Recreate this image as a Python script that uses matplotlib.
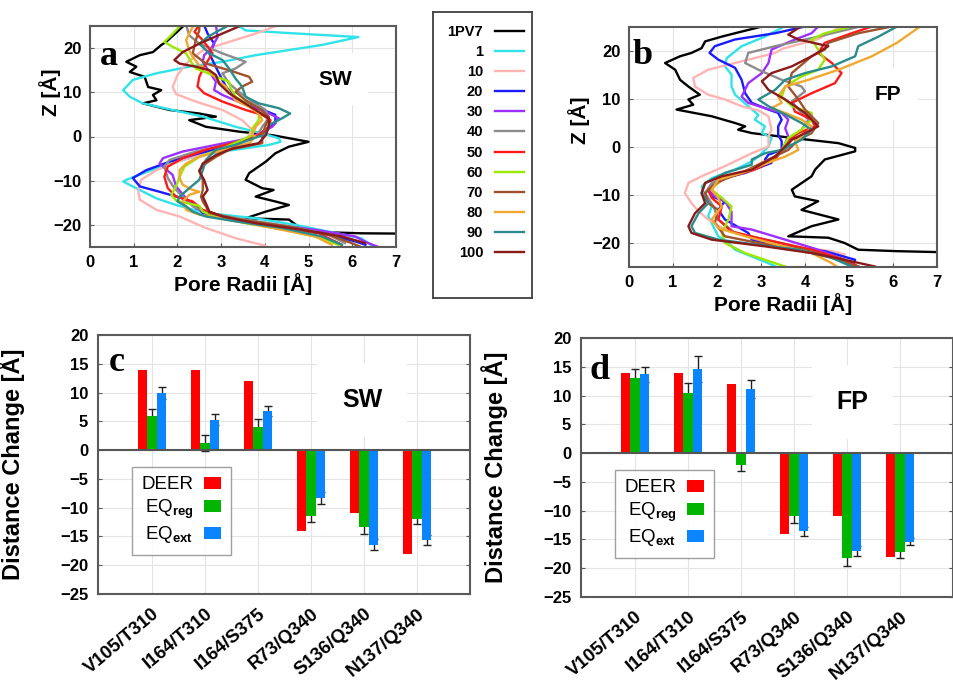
import matplotlib
matplotlib.use("Agg")
import matplotlib.pyplot as plt
import numpy as np
from matplotlib.patches import Patch
from matplotlib.transforms import ScaledTranslation

plt.rcParams["font.family"] = ["Liberation Sans", "DejaVu Sans"]
plt.rcParams["font.weight"] = "bold"
plt.rcParams["axes.labelweight"] = "bold"
plt.rcParams["mathtext.fontset"] = "custom"
plt.rcParams["mathtext.rm"] = "Liberation Sans"
plt.rcParams["mathtext.bf"] = "Liberation Sans:bold"

# ---- pore radius profiles, (radius, z) pairs ----
series_labels = ["1PV7", "1", "10", "20", "30", "40", "50", "60", "70", "80", "90", "100"]
series_colors = ["#000000", "#2fe3e8", "#ffb4b4", "#1a1aff", "#9b30ff", "#8c8c8c",
                 "#ff1a1a", "#9be800", "#a0522d", "#f0a830", "#2a8c8c", "#8b1a1a"]

sw_1pv7 = [(2.16, 25.2), (1.74, 21.4), (1.63, 20.7), (1.44, 19.1), (1.14, 18.4), (0.83, 16.9),
           (1.06, 15.8), (0.91, 14.6), (1.25, 13.5), (1.33, 11.2), (1.63, 10.5), (1.44, 9.4),
           (1.52, 8.2), (1.21, 7.5), (1.82, 6.0), (2.5, 5.2), (2.88, 4.5), (2.27, 3.7),
           (2.65, 2.2), (3.41, 1.1), (4.17, 0.3), (5.0, -1.2), (4.55, -2.3), (4.24, -3.8),
           (4.02, -5.7), (3.64, -8.3), (3.56, -9.8), (3.94, -11.7), (4.2, -12.1), (3.79, -13.6),
           (4.24, -14.7), (4.55, -15.5), (4.02, -17.0), (3.56, -18.5), (4.55, -18.8),
           (4.77, -20.4), (4.85, -21.5), (6.2, -21.9), (7.5, -22.0)]
sw_1 = [(3.37, 25.2), (3.56, 24.0), (4.55, 23.4), (6.14, 22.5), (5.3, 20.7), (3.79, 18.4),
        (3.03, 16.9), (2.27, 15.8), (1.52, 14.3), (0.98, 12.8), (0.76, 10.5), (0.91, 9.0),
        (1.21, 7.5), (1.89, 6.0), (2.58, 4.5), (3.33, 2.2), (3.94, 0.7), (4.32, -0.4),
        (4.36, -1.2), (4.1, -1.9), (3.03, -3.4), (2.27, -4.9), (1.52, -7.2), (0.83, -9.8),
        (0.76, -10.2), (0.98, -11.3), (1.36, -13.2), (1.52, -14.0), (1.97, -15.5),
        (2.65, -17.3), (3.79, -18.5), (4.7, -20.0), (5.45, -21.5), (6.2, -23.0), (6.5, -25.0)]
sw_10 = [(4.32, 25.2), (3.79, 23.3), (3.18, 21.4), (2.58, 19.5), (2.2, 16.5), (2.0, 13.9),
         (1.89, 11.2), (1.97, 9.6), (2.42, 7.9), (3.03, 6.0), (3.48, 3.7), (3.71, 1.5),
         (3.56, -0.8), (2.88, -3.0), (2.12, -5.3), (1.52, -7.6), (1.17, -9.8), (1.1, -12.1),
         (1.14, -14.3), (1.52, -16.6), (2.05, -18.1), (2.65, -20.7), (3.33, -23.0), (4.0, -24.7)]
sw_20 = [(2.61, 25.2), (2.69, 23.3), (2.84, 21.0), (2.73, 18.8), (2.84, 16.5), (2.99, 13.5),
         (3.11, 11.3), (3.33, 8.6), (3.79, 6.7), (4.24, 4.9), (4.24, 3.0), (3.94, 0.7),
         (3.79, 0.0), (3.26, -1.9), (2.5, -3.8), (1.82, -5.7), (1.29, -7.6), (0.98, -9.4),
         (1.14, -11.3), (1.59, -12.5), (2.12, -14.0), (2.42, -15.5), (2.58, -17.3),
         (3.18, -18.8), (4.24, -20.4), (5.3, -21.9), (6.06, -23.7), (6.3, -24.5)]
sw_30 = [(2.88, 25.2), (2.92, 22.5), (2.77, 19.9), (2.61, 18.4), (2.58, 16.9), (2.73, 14.6),
         (2.88, 12.4), (2.84, 10.5), (3.03, 9.4), (3.48, 7.5), (4.02, 5.6), (4.32, 4.1),
         (4.17, 2.2), (3.86, 0.7), (3.64, -0.4), (2.88, -1.9), (2.12, -3.4), (1.67, -4.9),
         (1.59, -6.1), (1.89, -8.7), (1.97, -11.3), (2.2, -14.0), (2.42, -16.2), (2.8, -17.7),
         (3.94, -19.6), (5.15, -21.1), (6.06, -22.6), (6.36, -24.1), (6.6, -25.0)]
sw_40 = [(2.2, 25.2), (2.27, 22.9), (2.5, 21.0), (3.03, 18.8), (3.56, 16.9), (3.33, 15.4),
         (3.03, 14.3), (3.18, 12.0), (3.41, 10.1), (3.71, 7.9), (4.02, 6.0), (4.09, 4.1),
         (3.94, 2.2), (3.83, 0.3), (3.71, -0.4), (3.11, -1.9), (2.42, -3.4), (1.82, -5.3),
         (1.7, -6.8), (1.78, -9.4), (1.93, -11.7), (2.16, -14.0), (2.35, -15.8), (2.73, -17.3),
         (3.56, -18.8), (4.62, -20.4), (5.45, -22.2), (5.83, -24.1)]
sw_50 = [(2.5, 25.2), (2.39, 23.7), (2.54, 22.2), (2.73, 19.9), (2.8, 18.8), (2.61, 15.8),
         (2.5, 13.5), (2.46, 11.3), (2.61, 9.8), (3.03, 7.9), (3.56, 6.0), (3.94, 4.9),
         (4.13, 3.7), (4.09, 2.2), (3.86, 0.3), (3.26, -1.5), (2.65, -3.0), (2.12, -4.9),
         (1.78, -6.8), (1.7, -9.1), (1.78, -11.7), (1.97, -13.6), (2.35, -14.7), (2.58, -16.6),
         (3.18, -18.5), (4.24, -20.4), (5.23, -21.9), (5.76, -24.5)]
sw_60 = [(2.08, 25.2), (1.86, 22.9), (1.7, 21.4), (1.89, 20.3), (2.2, 18.8), (2.31, 16.9),
         (2.42, 15.4), (2.8, 13.9), (3.18, 12.4), (3.22, 10.9), (3.33, 9.0), (3.64, 7.1),
         (3.86, 5.2), (3.86, 3.7), (3.71, 1.8), (3.71, 0.3), (3.56, -0.4), (3.03, -2.7),
         (2.5, -4.6), (2.16, -6.8), (2.05, -9.1), (1.97, -11.3), (1.86, -13.2), (1.97, -14.5),
         (2.5, -15.7), (2.58, -17.0), (2.88, -18.2), (3.56, -19.6), (4.47, -21.1), (5.3, -23.0),
         (5.68, -24.5)]
sw_70 = [(2.5, 25.2), (2.5, 24.0), (2.42, 21.8), (2.35, 18.8), (2.65, 16.5), (3.18, 15.0),
         (3.64, 13.5), (3.71, 12.4), (3.48, 11.3), (3.33, 10.1), (3.56, 8.2), (3.86, 6.4),
         (4.09, 4.5), (4.02, 2.6), (3.94, 0.3), (3.94, -1.5), (3.18, -3.0), (2.88, -4.6),
         (2.65, -6.1), (2.5, -7.6), (2.58, -9.8), (2.58, -12.1), (2.54, -13.6), (2.58, -14.7),
         (2.65, -15.8), (2.73, -17.3), (3.41, -18.8), (4.55, -20.4), (5.45, -22.2),
         (5.98, -24.1), (6.2, -25.0)]
sw_80 = [(2.35, 24.8), (2.27, 23.3), (2.2, 21.8), (2.27, 19.5), (2.35, 18.0), (2.5, 16.1),
         (2.8, 14.3), (2.95, 12.4), (3.11, 11.3), (3.18, 10.1), (3.33, 8.2), (3.64, 6.7),
         (3.86, 5.2), (3.94, 3.7), (3.79, 2.2), (3.71, 0.3), (3.79, 0.0), (3.64, -1.5),
         (3.18, -2.7), (2.5, -4.6), (2.2, -6.1), (2.05, -7.6), (2.05, -9.4), (2.12, -10.9),
         (2.35, -12.1), (2.5, -12.5), (2.27, -13.2), (2.12, -14.7), (2.2, -16.6), (2.5, -17.7),
         (3.18, -18.8), (4.17, -20.7), (5.15, -22.6), (5.53, -24.5)]
sw_90 = [(3.11, 24.8), (2.95, 24.0), (2.69, 22.5), (2.5, 21.0), (2.73, 18.8), (3.03, 17.3),
         (3.18, 15.4), (3.33, 13.1), (3.48, 11.3), (3.56, 9.0), (3.86, 7.5), (4.32, 6.4),
         (4.58, 5.2), (4.39, 4.1), (4.09, 2.6), (4.02, 0.3), (3.86, 0.0), (3.33, -1.9),
         (2.88, -3.0), (2.65, -5.3), (2.58, -7.6), (2.5, -9.8), (2.27, -11.7), (2.05, -13.6),
         (2.0, -14.7), (2.2, -15.8), (2.35, -17.0), (2.65, -18.1), (3.33, -19.2), (4.39, -20.7),
         (5.3, -22.6), (5.76, -24.5)]
sw_100 = [(3.48, 25.2), (3.03, 23.3), (2.5, 21.0), (2.12, 19.1), (1.93, 17.3), (2.05, 16.5),
          (2.42, 15.8), (2.73, 15.0), (2.88, 13.9), (2.95, 12.0), (3.18, 9.8), (3.48, 7.9),
          (3.79, 6.0), (4.09, 4.1), (4.09, 2.2), (4.02, 0.3), (3.86, -1.5), (3.26, -2.7),
          (2.88, -4.2), (2.58, -6.1), (2.5, -7.9), (2.61, -9.8), (2.69, -12.1), (2.58, -13.6),
          (2.65, -15.1), (2.73, -17.0), (3.03, -18.1), (3.79, -19.6), (4.85, -21.1),
          (5.76, -22.6), (6.29, -24.1)]

fp_1pv7 = [(3.02, 25.1), (2.41, 23.7), (2.11, 23.0), (1.73, 22.0), (1.65, 20.6), (1.42, 19.6),
           (1.16, 18.9), (0.82, 17.5), (1.05, 16.1), (1.16, 14.0), (1.35, 12.6), (1.61, 10.9),
           (1.35, 9.9), (1.46, 8.8), (1.08, 7.8), (1.88, 6.4), (2.41, 5.0), (2.64, 4.3),
           (2.48, 3.6), (2.79, 2.9), (3.7, 1.9), (4.76, 0.8), (5.14, -0.2), (5.14, -0.9),
           (4.45, -2.6), (4.23, -4.7), (4.15, -6.1), (3.7, -8.9), (3.77, -10.3), (4.3, -11.3),
           (3.92, -13.1), (4.76, -15.1), (4.15, -16.5), (3.62, -18.6), (4.53, -18.9),
           (4.9, -20.0), (5.21, -21.4), (6.09, -21.7), (7.5, -22.0)]
fp_1 = [(3.47, 24.8), (3.09, 23.0), (2.56, 21.0), (2.22, 18.5), (2.18, 16.8), (2.33, 15.1),
        (2.33, 12.6), (2.41, 10.9), (2.71, 8.5), (2.94, 6.7), (2.86, 5.7), (3.09, 4.3),
        (3.02, 2.9), (3.24, 1.9), (3.17, 0.1), (2.94, -2.0), (2.79, -3.0), (2.41, -4.7),
        (1.88, -6.5), (1.65, -8.2), (1.73, -10.3), (1.88, -12.4), (1.8, -14.4), (1.95, -17.2),
        (2.03, -18.6), (2.26, -20.0), (2.41, -21.4), (2.79, -22.8), (3.24, -24.5), (3.4, -25.2)]
fp_10 = [(4.8, 25.0), (4.3, 22.5), (3.5, 20.5), (3.32, 19.6), (2.41, 17.5), (1.8, 16.1),
         (1.46, 14.4), (1.5, 12.6), (1.8, 10.9), (2.18, 9.9), (2.56, 8.5), (2.94, 7.6),
         (3.17, 6.4), (3.24, 3.6), (3.17, 2.2), (3.17, 0.1), (2.79, -1.3), (2.18, -4.0),
         (1.65, -6.1), (1.35, -7.5), (1.27, -9.6), (1.42, -11.7), (1.58, -13.4), (1.8, -15.1),
         (2.18, -17.2), (2.79, -18.9), (3.7, -20.7), (4.61, -21.7), (4.9, -22.4)]
fp_20 = [(4.0, 25.1), (3.32, 23.7), (2.41, 22.4), (1.95, 21.0), (1.83, 19.6), (2.03, 18.2),
         (2.41, 16.5), (2.56, 14.0), (2.64, 11.2), (2.79, 9.2), (3.17, 7.8), (3.39, 7.1),
         (3.47, 5.7), (3.39, 4.3), (3.39, 2.6), (3.47, 1.2), (3.47, -0.6), (3.17, -1.6),
         (3.09, -2.6), (3.24, -3.3), (2.64, -5.4), (2.03, -6.8), (1.8, -8.9), (1.88, -10.3),
         (2.18, -11.3), (2.03, -13.1), (2.18, -15.1), (2.71, -17.9), (2.79, -19.3),
         (3.47, -20.7), (4.45, -21.7), (5.14, -23.5), (5.1, -24.5)]
fp_30 = [(4.3, 25.1), (4.15, 23.7), (3.77, 22.4), (3.24, 20.3), (3.17, 17.5), (3.02, 15.4),
         (2.71, 13.3), (2.56, 10.5), (2.71, 9.2), (3.09, 8.1), (3.47, 7.1), (3.62, 5.7),
         (3.55, 3.9), (3.62, 2.2), (3.47, -0.9), (3.24, -2.6), (2.71, -5.1), (2.03, -6.8),
         (1.8, -8.9), (1.95, -10.3), (2.18, -11.3), (2.33, -13.5), (2.33, -16.5), (2.79, -17.2),
         (3.55, -19.3), (4.3, -21.4), (4.9, -23.5), (5.2, -24.9)]
fp_40 = [(5.2, 25.0), (4.3, 23.0), (3.32, 21.0), (2.71, 19.6), (2.64, 17.5), (2.94, 16.1),
         (3.47, 14.0), (3.92, 12.6), (4.0, 11.6), (3.85, 10.5), (3.7, 9.5), (3.85, 7.8),
         (4.08, 5.7), (3.92, 3.6), (3.7, 1.9), (3.62, 0.1), (3.39, -1.6), (3.24, -3.0),
         (2.56, -5.4), (1.88, -7.5), (1.73, -9.6), (1.92, -12.4), (2.03, -15.1), (2.41, -17.9),
         (3.32, -19.7), (4.08, -21.4), (4.76, -23.1), (5.06, -24.9)]
fp_50 = [(5.52, 25.1), (5.06, 23.7), (4.45, 21.7), (4.3, 19.6), (4.61, 17.5), (4.83, 15.4),
         (4.68, 13.3), (4.15, 11.2), (3.7, 9.2), (3.77, 7.4), (4.15, 5.7), (4.23, 4.3),
         (3.85, 2.9), (3.62, 1.5), (3.47, -0.6), (3.32, -2.6), (2.86, -4.7), (2.18, -6.5),
         (1.8, -8.9), (1.88, -10.6), (2.11, -12.4), (2.03, -15.1), (2.33, -17.6), (3.09, -19.3),
         (4.15, -21.4), (4.9, -23.5), (5.21, -24.9)]
fp_60 = [(5.06, 25.1), (4.45, 23.7), (4.15, 22.4), (4.3, 20.3), (4.45, 18.2), (4.3, 16.1),
         (3.92, 14.7), (3.55, 12.6), (3.47, 10.5), (3.7, 8.5), (4.15, 7.1), (4.15, 5.7),
         (3.92, 3.6), (3.62, 1.9), (3.47, -0.6), (3.24, -2.6), (2.79, -4.7), (2.11, -6.5),
         (1.88, -8.9), (2.11, -10.6), (2.33, -12.4), (2.26, -15.1), (2.11, -17.9), (2.18, -20.0),
         (2.64, -22.1), (3.09, -23.5), (3.55, -24.9)]
fp_70 = [(5.97, 25.1), (5.21, 23.7), (4.53, 21.7), (4.45, 20.3), (4.15, 18.9), (3.7, 15.4),
         (3.62, 12.6), (3.85, 9.9), (4.0, 7.8), (4.3, 5.0), (4.15, 2.9), (3.85, 1.5),
         (3.62, -0.6), (3.17, -2.6), (2.56, -5.4), (2.03, -7.2), (1.73, -9.6), (1.8, -11.7),
         (2.03, -13.1), (1.95, -15.8), (2.18, -18.6), (2.94, -20.0), (4.0, -21.4), (4.76, -23.5),
         (5.21, -24.9)]
fp_80 = [(6.6, 25.0), (6.09, 21.7), (5.52, 18.9), (4.76, 16.1), (4.08, 14.0), (3.55, 12.6),
         (3.39, 10.5), (3.47, 9.2), (3.24, 8.1), (3.55, 7.1), (3.92, 5.7), (4.15, 4.3),
         (4.0, 2.6), (3.77, 1.2), (3.85, -0.6), (3.55, -2.0), (3.24, -3.0), (2.56, -5.4),
         (2.03, -6.8), (1.88, -8.9), (2.03, -10.6), (2.11, -12.4), (1.88, -15.1), (2.03, -16.9),
         (2.64, -18.6), (3.39, -20.4), (4.15, -22.1), (4.61, -24.2), (4.76, -25.2)]
fp_90 = [(6.5, 25.5), (6.09, 25.1), (5.67, 23.0), (5.21, 21.0), (5.14, 18.9), (4.61, 16.8),
         (4.0, 15.4), (3.55, 14.0), (3.32, 11.9), (2.94, 9.9), (3.17, 8.5), (3.55, 6.8),
         (3.92, 5.0), (4.15, 3.6), (3.92, 1.5), (3.47, -0.6), (3.09, -1.3), (2.79, -2.6),
         (2.79, -3.7), (2.18, -5.4), (1.73, -7.5), (1.65, -9.6), (1.8, -11.7), (1.58, -13.8),
         (1.42, -16.5), (1.5, -17.9), (2.03, -19.3), (2.94, -20.4), (3.85, -21.4), (4.61, -23.1),
         (5.06, -24.9)]
fp_100 = [(3.85, 24.8), (3.62, 23.4), (3.85, 22.4), (4.53, 21.0), (4.15, 18.9), (3.7, 16.8),
          (3.24, 15.4), (3.02, 13.7), (3.17, 11.9), (3.55, 9.9), (4.0, 7.1), (4.3, 4.3),
          (4.0, 2.9), (3.7, 1.5), (3.47, -0.6), (3.32, -2.0), (2.79, -4.7), (2.11, -6.1),
          (1.73, -7.5), (1.65, -9.6), (1.73, -11.7), (1.5, -13.8), (1.35, -16.5), (1.42, -17.9),
          (1.88, -19.3), (3.09, -20.7), (4.15, -22.1), (4.9, -23.5), (5.59, -24.9)]

sw_profiles = [sw_1pv7, sw_1, sw_10, sw_20, sw_30, sw_40, sw_50, sw_60, sw_70, sw_80, sw_90, sw_100]
fp_profiles = [fp_1pv7, fp_1, fp_10, fp_20, fp_30, fp_40, fp_50, fp_60, fp_70, fp_80, fp_90, fp_100]

# ---- distance changes ----
pairs = ["V105/T310", "I164/T310", "I164/S375", "R73/Q340", "S136/Q340", "N137/Q340"]
sw_deer = [14, 14, 12, -14, -11, -18]
sw_reg = [5.9, 1.2, 4.0, -11.5, -13.3, -12.0]
sw_reg_err = [1.2, 1.4, 1.4, 1.0, 1.2, 0.9]
sw_ext = [9.9, 5.3, 6.8, -8.3, -16.4, -15.6]
sw_ext_err = [1.1, 0.9, 0.8, 1.0, 1.0, 0.9]
fp_deer = [14, 14, 12, -14, -11, -18]
fp_reg = [13.0, 10.5, -2.1, -11.0, -18.3, -17.2]
fp_reg_err = [1.7, 1.6, 1.0, 1.2, 1.3, 1.1]
fp_ext = [13.7, 14.6, 11.1, -13.6, -17.0, -15.4]
fp_ext_err = [1.3, 2.3, 1.6, 0.8, 0.9, 0.6]

W, H = 954, 684
fig = plt.figure(figsize=(W / 100, H / 100), dpi=100)


def rect(x0, y0, x1, y1):
    # pixel box -> figure fraction
    return [x0 / W, 1 - y1 / H, (x1 - x0) / W, (y1 - y0) / H]


frame_col = "#5a5a5a"
grid_col = "#e4e4e4"


def style(ax):
    for s in ax.spines.values():
        s.set_color(frame_col)
        s.set_linewidth(1.5)
    ax.grid(True, color=grid_col, lw=0.8)
    ax.set_axisbelow(True)
    ax.tick_params(direction="in", length=3, color=frame_col, labelsize=12)


def bold_ticks(ax):
    for lab in ax.get_xticklabels() + ax.get_yticklabels():
        lab.set_fontweight("bold")


def profile_panel(box, profiles, letter, tag, tag_xy, letter_xy, zlab_xy):
    ax = fig.add_axes(rect(*box))
    style(ax)
    lines = []
    for prof, col, lab in zip(profiles, series_colors, series_labels):
        arr = np.array(prof)
        ln, = ax.plot(arr[:, 0], arr[:, 1], color=col, lw=1.7, label=lab)
        lines.append(ln)
    ax.set_xlim(0, 7)
    ax.set_ylim(-25, 25)
    ax.set_xticks(range(0, 8))
    ax.set_yticks([-20, -10, 0, 10, 20])
    ax.tick_params(axis="both", pad=6)
    bold_ticks(ax)
    ax.set_xlabel("Pore Radii [Å]", fontsize=15, labelpad=2)
    ax.set_ylabel("Z [Å]", fontsize=15)
    ax.yaxis.set_label_coords(*zlab_xy)
    ax.text(*letter_xy, letter, transform=ax.transAxes, family="Liberation Serif",
            fontsize=26, weight="bold", ha="center", va="center")
    ax.text(*tag_xy, tag, transform=ax.transAxes, fontsize=15, weight="bold",
            ha="center", va="center",
            bbox=dict(facecolor="white", edgecolor="none", boxstyle="square,pad=0.8"))
    return ax, lines


ax_a, handles = profile_panel((90, 26, 396, 247), sw_profiles, "a", "SW",
                              (0.80, 0.76), (0.062, 0.86), (-0.095, 0.70))
ax_b, _ = profile_panel((629, 27, 937, 267), fp_profiles, "b", "FP",
                        (0.84, 0.72), (0.045, 0.88), (-0.125, 0.61))

# middle legend box
ax_leg = fig.add_axes(rect(433, 12, 532, 298))
ax_leg.set_xticks([])
ax_leg.set_yticks([])
for s in ax_leg.spines.values():
    s.set_color("#404040")
    s.set_linewidth(1.3)
ax_leg.legend(handles, series_labels, loc="upper right", bbox_to_anchor=(0.92, 0.955),
              frameon=False, markerfirst=False, fontsize=10.5, handlelength=2.0,
              handletextpad=0.8, labelspacing=0.42, borderpad=0, borderaxespad=0)

bar_cols = ["#ff0000", "#00b400", "#0a84ff"]
leg_labels = ["DEER", r"EQ$_\mathbf{reg}$", r"EQ$_\mathbf{ext}$"]


def bar_panel(box, deer, reg, reg_err, ext, ext_err, letter, tag, letter_xy, tag_xy):
    ax = fig.add_axes(rect(*box))
    style(ax)
    x = np.arange(len(pairs))
    w = 0.18
    ax.errorbar(x, reg, yerr=reg_err, fmt="none", ecolor="#222222", elinewidth=1,
                capsize=3, capthick=1, zorder=1.5)
    ax.errorbar(x + w, ext, yerr=ext_err, fmt="none", ecolor="#222222", elinewidth=1,
                capsize=3, capthick=1, zorder=1.5)
    ax.bar(x - w, deer, w, color=bar_cols[0], zorder=2)
    ax.bar(x, reg, w, color=bar_cols[1], zorder=2)
    ax.bar(x + w, ext, w, color=bar_cols[2], zorder=2)
    ax.axhline(0, color="#555555", lw=1.5, zorder=3)
    ax.set_xlim(-1.02, 6.0)
    ax.set_ylim(-25, 20)
    ax.set_yticks(range(-25, 21, 5))
    ax.set_xticks(x)
    ax.set_xticklabels(pairs, rotation=40, ha="right", rotation_mode="anchor", fontsize=13.5)
    off = ScaledTranslation(15 / 100, 0, fig.dpi_scale_trans)
    for lab in ax.get_xticklabels():
        lab.set_transform(lab.get_transform() + off)
    ax.tick_params(axis="y", right=True, pad=7)
    ax.tick_params(axis="x", length=0, pad=8)
    bold_ticks(ax)
    ax.set_ylabel("Distance Change [Å]", fontsize=17)
    ax.yaxis.set_label_coords(-0.196, 0.5)
    ax.text(*letter_xy, letter, transform=ax.transAxes, family="Liberation Serif",
            fontsize=26, weight="bold", ha="center", va="center")
    ax.text(*tag_xy, tag, transform=ax.transAxes, fontsize=18, weight="bold",
            ha="center", va="center", zorder=1,
            bbox=dict(facecolor="white", edgecolor="none", boxstyle="square,pad=1.0"))
    patches = [Patch(facecolor=c) for c in bar_cols]
    leg = ax.legend(patches, leg_labels, loc="upper left", bbox_to_anchor=(0.091, 0.49),
                    markerfirst=False, fancybox=False, edgecolor="#888888",
                    prop={"weight": "normal", "size": 13.5}, handlelength=0.9,
                    handleheight=0.65, handletextpad=0.6, labelspacing=0.2,
                    borderpad=0.5, borderaxespad=0)
    leg.get_frame().set_linewidth(1.0)
    return ax


bar_panel((98, 335, 470, 594), sw_deer, sw_reg, sw_reg_err, sw_ext, sw_ext_err,
          "c", "SW", (0.051, 0.895), (0.71, 0.75))
bar_panel((581, 338, 953, 597), fp_deer, fp_reg, fp_reg_err, fp_ext, fp_ext_err,
          "d", "FP", (0.051, 0.876), (0.73, 0.753))

fig.savefig("out.png", dpi=100)
